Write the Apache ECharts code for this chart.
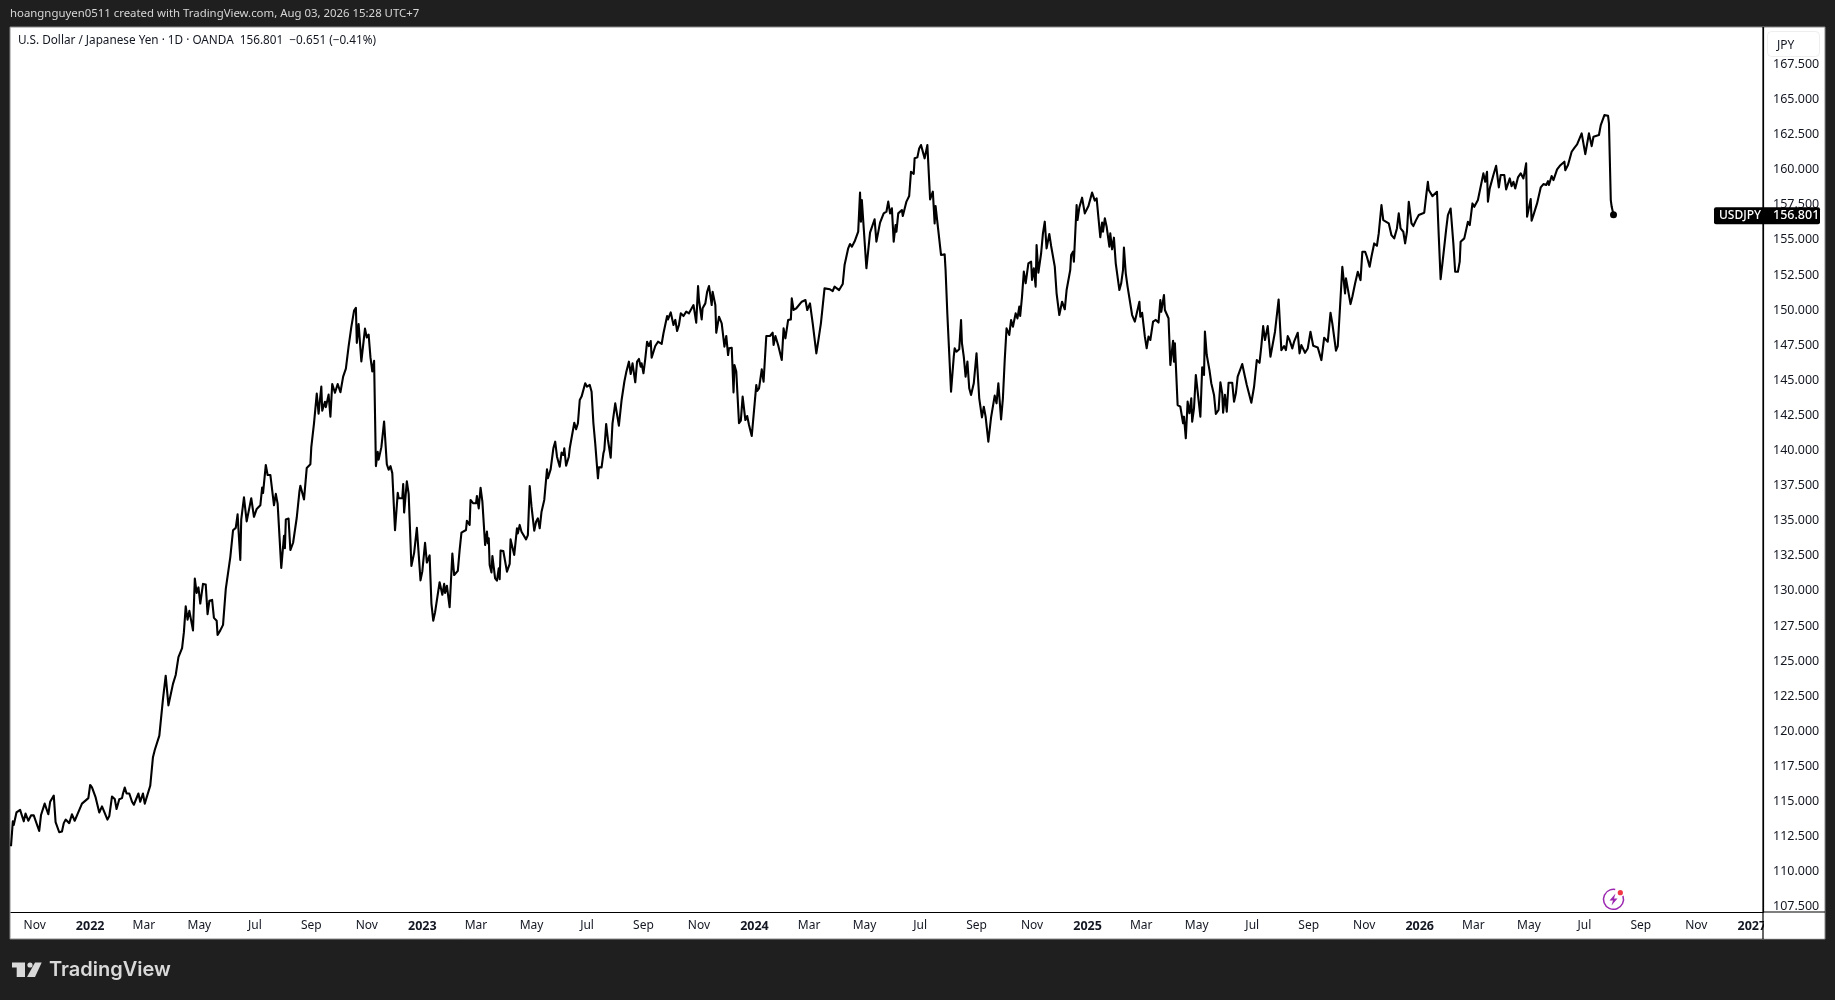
<!DOCTYPE html>
<html><head><meta charset="utf-8">
<style>html,body{margin:0;padding:0;background:#1f1f1f}#c{width:1835px;height:1000px}</style>
<script src="https://cdn.jsdelivr.net/npm/echarts@6/dist/echarts.min.js"></script>
</head><body><div id="c"></div>
<script>
const startDate = '2021-10-06';
const dayOffsets = [
0,2,3,6,10,14,16,19,22,25,31,33,35,37,41,43,47,49,53,56,
58,60,64,67,70,73,78,80,85,87,89,93,95,97,100,106,108,111,114,116,
119,122,123,125,127,130,133,135,140,142,145,147,153,156,158,160,163,167,169,170,
173,175,178,181,184,188,190,192,194,196,200,202,204,206,208,211,214,216,218,221,
223,226,227,230,231,233,236,238,241,244,247,249,252,253,256,259,264,267,270,274,
276,277,280,282,285,289,291,293,297,300,301,302,305,307,310,314,317,318,322,325,
329,330,333,336,338,341,342,345,346,349,351,353,356,359,362,365,368,370,371,374,
377,379,380,382,385,389,391,393,395,396,397,399,401,403,404,407,408,410,413,415,
417,419,422,425,426,430,431,432,434,435,437,438,440,443,446,450,452,455,457,460,
462,464,466,468,471,474,476,477,479,482,484,485,487,491,493,
495,500,501,504,505,508,511,512,514,516,518,521,523,524,525,526,528,529,532,534,
536,537,538,541,545,548,549,553,556,557,559,561,563,566,568,570,572,575,577,579,
581,583,586,589,590,593,596,598,600,603,605,607,608,610,613,614,616,619,621,623,
625,627,631,633,636,638,640,642,645,646,649,651,652,654,656,659,661,664,665,668,
671,674,676,678,679,681,683,686,688,690,692,693,695,697,699,701,703,704,708,711,
713,715,717,721,722,725,728,730,732,734,736,739,742,745,750,753,755,756,759,760,
763,765,767,770,771,774,775,778,781,784,786,788,789,792,794,795,797,800,802,804,
807,809,811,814,819,820,822,825,827,830,834,837,838,840,843,847,849,851,853,854,
857,858,860,863,865,869,873,875,878,881,885,887,890,892,894,896,900,903,905,910,
914,916,918,
920,922,924,927,931,933,934,935,940,944,949,951,955,959,962,964,966,968,970,972,
973,975,979,980,984,987,989,992,993,996,998,1000,1004,1007,1010,1013,1015,1016,1018,1022,
1026,1027,1029,1033,1036,1037,1039,1042,1044,1045,1047,1049,1051,1053,1055,1058,1061,1064,1067,1069,
1071,1074,1077,1081,1083,1085,1087,1088,1090,1092,1094,1097,1099,1101,1104,1106,1108,1109,1111,1113,
1115,1118,1121,1122,1124,1126,1127,1129,1132,1134,1136,1138,1141,1143,1147,1149,1152,1155,1158,1160,
1164,1165,1167,1168,1171,1172,1174,1177,1180,1184,1188,1191,1193,1197,1199,1200,1202,1204,1207,1208,
1210,1212,1214,1218,1220,1222,1223,1225,1227,1232,1235,1237,1240,1241,1243,1246,1248,1250,1252,1255,
1258,1261,1263,1264,1267,1268,1272,1274,1277,1278,1279,1282,1285,1288,1289,1291,1293,1295,1297,1298,
1300,1302,1307,1309,1311,1312,1314,1317,1319,1322,1324,1327,1329,1331,1332,1334,1336,1338,1342,1344,
1346,1348,1350,
1353,1356,1358,1363,1366,1369,1372,1374,1376,1378,1381,1384,1386,1389,1393,1396,1399,1401,1403,1405,
1408,1410,1414,1416,1418,1422,1425,1428,1431,1436,1440,1443,1447,1450,1452,1456,1458,1463,1466,1467,
1472,1474,1477,1480,1482,1483,1485,1488,1490,1493,1495,1498,1501,1503,1506,1508,1510,1514,1517,1520,
1523,1525,1527,1530,1532,1534,1536,1539,1541,1544,1547,1549,1553,1555,1557,1558,1560,1562,1567,1569,
1571,1573,1577,1579,1582,1585,1587,1590,1592,1593,1597,1601,1603,1606,1608,1612,1618,1620,1622,1623,
1625,1629,1632,1635,1637,1641,1643,1647,1649,1651,1653,1656,1659,1662,1665,1666,1670,1671,1673,1677,
1681,1684,1687,1689,1690,1693,1695,1699,1702,1707,1708,1711,1715,1718,1721,1723,1726,1727,1730,1734,
1737,1739,1745,1747,1749,1751,1755,1756,1758,1759,1761
];
const closePrices = [
111.81,113.59,113.33,114.22,114.40,113.59,114.14,113.63,114.01,114.01,112.90,114.04,114.04,114.85,114.09,114.98,115.42,113.53,112.81,112.87,
113.46,113.71,113.46,114.09,113.63,114.09,114.85,114.85,115.24,116.18,116.00,115.29,115.24,114.22,114.65,113.71,113.96,115.36,115.18,114.47,
115.16,115.24,115.55,116.00,115.57,115.57,114.98,114.77,115.57,114.98,115.57,114.85,116.12,118.16,118.67,118.72,119.69,122.29,122.29,123.96,
121.85,121.72,123.38,124.01,125.28,125.92,127.06,128.90,127.95,128.58,127.19,130.88,129.86,130.25,129.10,130.50,130.45,128.34,129.30,129.36,
128.08,127.88,126.86,127.19,127.06,127.58,130.12,130.12,132.41,134.32,134.49,135.45,132.21,135.08,136.67,134.95,136.60,135.28,135.84,136.10,
137.37,136.98,138.97,138.26,138.26,136.10,136.91,136.22,131.64,133.93,133.04,135.08,135.15,132.91,133.43,135.21,137.11,137.49,136.52,138.76,
139.02,140.24,141.95,144.06,142.63,144.56,142.83,143.47,143.09,143.98,142.41,144.74,144.11,144.74,144.15,145.26,145.83,145.94,147.41,148.81,
149.96,150.16,147.67,149.00,146.35,148.68,148.05,148.26,146.65,146.52,145.63,146.39,138.89,139.91,139.35,140.24,140.34,142.07,139.02,138.63,
138.89,138.39,134.32,136.98,136.60,136.60,137.62,135.58,135.51,137.80,136.91,136.91,131.77,132.71,134.49,130.75,131.39,133.43,132.02,132.53,
129.10,127.88,128.47,128.47,130.62,129.73,130.50,129.86,130.37,128.84,128.71,132.66,131.13,131.43,132.91,
134.15,134.34,135.00,134.70,136.48,136.24,136.24,136.76,135.88,137.35,136.36,133.27,134.22,133.39,133.75,131.85,131.32,132.49,130.90,130.73,
131.61,130.83,132.87,132.84,131.37,131.92,133.67,132.56,134.46,134.10,134.70,134.22,134.22,133.67,133.98,137.47,136.00,134.29,134.93,135.17,
134.46,135.64,136.48,138.66,138.02,138.66,140.16,140.63,139.56,138.85,139.85,139.68,140.16,138.92,139.56,140.16,140.27,141.98,141.51,141.94,
143.60,143.84,144.79,144.55,144.67,144.19,141.94,140.51,138.02,138.80,138.80,139.80,140.04,141.89,140.75,139.49,141.94,143.36,143.31,141.77,
143.60,144.90,145.55,145.62,146.33,145.45,146.21,144.86,146.33,146.52,145.97,146.21,145.50,146.52,147.75,147.44,147.80,146.61,147.44,147.75,
147.87,147.59,148.35,149.58,149.34,149.84,148.94,149.30,148.51,148.94,149.77,149.58,149.89,149.77,150.36,149.11,151.72,150.72,149.34,150.13,
150.48,151.31,151.72,150.36,151.31,150.36,148.39,149.53,149.06,147.40,148.16,146.80,147.28,147.32,144.14,146.09,145.62,141.94,142.13,143.84,
142.17,142.46,141.82,141.03,144.67,144.24,144.43,145.78,144.90,148.16,148.16,148.39,147.52,148.16,147.52,146.45,148.70,147.99,148.11,149.30,
149.34,150.84,150.01,150.13,150.06,150.60,150.72,150.01,150.48,149.06,146.92,147.75,149.06,149.18,151.55,151.43,151.48,151.36,151.67,151.43,
151.86,153.21,153.33,
154.40,154.71,154.52,154.88,155.59,158.37,156.30,157.84,152.98,155.52,156.47,154.88,156.23,156.89,157.01,157.73,156.89,157.25,154.88,156.06,
155.59,156.89,157.13,156.70,157.73,158.13,159.86,159.70,160.81,160.88,161.52,161.76,160.81,161.76,157.89,158.44,156.18,157.42,157.42,153.93,
153.97,152.86,149.65,144.19,146.69,147.28,147.04,147.21,149.30,147.64,146.69,145.26,146.33,144.43,143.96,144.79,146.92,143.72,142.36,143.12,
142.41,140.63,142.36,143.91,143.36,144.79,144.79,142.22,143.72,146.45,148.70,148.23,149.30,148.82,149.77,149.41,150.25,149.58,150.96,152.74,
151.91,153.33,153.45,152.15,152.98,151.67,154.64,152.67,154.05,155.47,156.30,154.40,155.42,154.57,153.10,151.20,149.65,150.60,150.06,151.43,
152.86,153.93,154.16,153.45,157.49,156.42,157.32,158.01,156.89,157.42,158.37,157.80,157.96,155.19,156.23,155.59,156.54,155.94,154.52,155.47,
154.33,155.16,153.33,151.43,151.91,152.86,154.45,152.62,151.67,149.65,149.18,149.06,150.60,149.53,149.81,148.11,147.28,148.11,147.87,149.18,
149.30,149.11,150.72,149.88,151.08,150.01,149.42,146.09,147.82,146.33,147.63,143.24,143.12,141.94,142.41,140.87,143.48,142.65,143.72,142.06,
143.01,145.38,142.41,145.93,145.38,148.47,146.80,145.73,144.79,143.96,142.60,142.89,144.86,144.07,142.70,143.96,142.77,144.83,144.83,143.48,
144.07,145.26,145.33,
146.16,145.25,144.66,143.40,144.54,146.44,146.25,147.44,148.86,147.87,148.86,146.68,146.54,148.46,150.76,147.15,147.44,147.15,148.15,147.87,
147.27,147.75,148.39,146.92,147.51,146.96,147.27,148.46,147.46,147.34,146.44,148.03,147.75,149.81,149.05,147.11,147.44,153.09,151.19,152.26,
150.43,150.95,151.90,152.73,152.85,152.14,154.16,154.16,153.80,153.09,153.80,154.75,154.58,155.46,157.48,156.41,156.46,156.18,155.34,155.11,
155.82,156.89,155.82,155.58,154.75,155.58,157.72,156.18,155.99,156.41,156.77,156.65,156.94,158.07,159.14,158.55,158.60,158.12,158.43,155.23,
152.21,153.33,155.70,156.77,157.24,154.75,152.73,152.73,153.45,154.87,155.11,156.29,156.06,157.60,157.36,157.84,159.74,159.14,159.86,157.72,
158.67,159.62,160.28,158.74,159.62,159.62,158.60,159.38,158.83,159.14,158.67,159.45,159.74,159.38,160.45,156.65,157.91,156.37,156.77,157.60,
158.74,158.98,158.91,159.19,158.91,159.55,159.26,160.02,160.28,160.57,159.97,160.33,161.28,161.56,161.80,161.87,162.59,162.63,161.11,162.59,
161.68,162.35,162.47,163.18,163.25,163.89,163.84,163.30,157.84,157.36,156.801
];
const tickDates = ['2021-11-01','2022-01-01','2022-03-01','2022-05-01','2022-07-01','2022-09-01','2022-11-01','2023-01-01','2023-03-01','2023-05-01','2023-07-01','2023-09-01','2023-11-01','2024-01-01','2024-03-01','2024-05-01','2024-07-01','2024-09-01','2024-11-01','2025-01-01','2025-03-01','2025-05-01','2025-07-01','2025-09-01','2025-11-01','2026-01-01','2026-03-01','2026-05-01','2026-07-01','2026-09-01','2026-11-01','2027-01-01'];
const tickLabels = ['Nov','2022','Mar','May','Jul','Sep','Nov','2023','Mar','May','Jul','Sep','Nov','2024','Mar','May','Jul','Sep','Nov','2025','Mar','May','Jul','Sep','Nov','2026','Mar','May','Jul','Sep','Nov','2027'];
const priceTicks = [107.5,110,112.5,115,117.5,120,122.5,125,127.5,130,132.5,135,137.5,140,142.5,145,147.5,150,152.5,155,157.5,160,162.5,165,167.5];
const attribution = 'hoangnguyen0511 created with TradingView.com, Aug 03, 2026 15:28 UTC+7';
const heading = 'U.S. Dollar / Japanese Yen · 1D · OANDA  156.801  −0.651 (−0.41%)';

if (dayOffsets.length !== closePrices.length) throw new Error('length mismatch ' + dayOffsets.length + ' ' + closePrices.length);

const FONT = '"Noto Sans"';
const DAY = 86400000;
const base = Date.parse(startDate + 'T00:00:00Z');
const seriesData = dayOffsets.map((d, i) => [base + d * DAY, closePrices[i]]);
const tickMs = tickDates.map(s => Date.parse(s + 'T00:00:00Z'));
const labelOf = new Map(tickMs.map((t, i) => [t, tickLabels[i]]));
const last = closePrices[closePrices.length - 1];

const chart = echarts.init(document.getElementById('c'), null, {renderer: 'canvas'});
chart.setOption({
  animation: false,
  backgroundColor: '#1f1f1f',
  title: [
    {text: attribution, left: 10, top: 8, padding: 0, textStyle: {color: '#d6d6d6', fontFamily: FONT, fontSize: 11.4, fontWeight: 'normal'}},
    {text: heading, left: 18, top: 35, padding: 0, z: 20, textStyle: {color: '#131722', fontFamily: FONT, fontSize: 11.75, fontWeight: 'normal'}}
  ],
  grid: {left: 11, top: 27.5, width: 1752, height: 884.5, show: false},
  xAxis: {
    type: 'value', min: base, max: base + 1925.27 * DAY,
    axisLine: {show: true, onZero: false, lineStyle: {color: '#000', width: 1.2}}, axisTick: {show: false}, splitLine: {show: false},
    axisLabel: {
      customValues: tickMs, margin: 8, hideOverlap: false, showMinLabel: true, showMaxLabel: true,
      fontFamily: FONT, fontSize: 12, color: '#131722',
      formatter: v => { const s = labelOf.get(v) || ''; return /^\d/.test(s) ? '{y|' + s + '}' : s; },
      rich: {y: {fontFamily: FONT, fontSize: 12.5, fontWeight: 'bold', color: '#131722'}}
    }
  },
  yAxis: {
    type: 'value', position: 'right', min: 107.13, max: 170.13,
    axisLine: {show: true, onZero: false, lineStyle: {color: '#000', width: 1.2}}, axisTick: {show: false}, splitLine: {show: false},
    axisLabel: {customValues: priceTicks, margin: 10, fontFamily: FONT, fontSize: 12.5, color: '#131722', hideOverlap: false, showMinLabel: true, showMaxLabel: true, formatter: v => v.toFixed(3)}
  },
  series: [{
    type: 'line', data: seriesData, showSymbol: false, smooth: false, clip: true, z: 5,
    lineStyle: {color: '#000', width: 2.1, join: 'round'},
    markPoint: {silent: true, symbol: 'circle', symbolSize: 7, itemStyle: {color: '#000'}, label: {show: false},
      data: [{coord: seriesData[seriesData.length - 1]}]}
  }]
});

const tagY = chart.convertToPixel({yAxisIndex: 0}, last) + 1;
const ink = '#d9d9d9';
chart.setOption({
  graphic: [
    {type: 'rect', z: -10, silent: true, shape: {x: 10, y: 27, width: 1815, height: 912}, style: {fill: '#fff', stroke: '#8a8a8a', lineWidth: 1}},
    {type: 'rect', z: 30, silent: true, shape: {x: 1764, y: 913, width: 60, height: 25.5}, style: {fill: '#fff'}},
    {type: 'line', z: 31, silent: true, shape: {x1: 1763, y1: 27, x2: 1763, y2: 939}, style: {stroke: '#000', lineWidth: 1.2}},
    {type: 'line', z: 31, silent: true, shape: {x1: 1763, y1: 912, x2: 1825, y2: 912}, style: {stroke: '#000', lineWidth: 1.2}},
    {type: 'rect', z: 32, silent: true, shape: {x: 1767.5, y: 31.5, width: 52, height: 25, r: 4}, style: {fill: '#fff', stroke: '#eeeeee', lineWidth: 1}},
    {type: 'text', z: 33, silent: true, style: {x: 1777, y: 45.5, text: 'JPY', fill: '#131722', font: '12px ' + FONT, textVerticalAlign: 'middle'}},
    {type: 'rect', z: 34, silent: true, shape: {x: 1714, y: tagY - 8.5, width: 106, height: 17, r: 2}, style: {fill: '#000'}},
    {type: 'text', z: 35, silent: true, style: {x: 1719, y: tagY, text: 'USDJPY', fill: '#fff', font: '500 12px ' + FONT, textVerticalAlign: 'middle'}},
    {type: 'text', z: 35, silent: true, style: {x: 1773, y: tagY, text: last.toFixed(3), fill: '#fff', font: '500 12.5px ' + FONT, textVerticalAlign: 'middle'}},
    {type: 'arc', z: 20, silent: true, shape: {cx: 1613.5, cy: 899.3, r: 10, startAngle: -20 * Math.PI / 180, endAngle: 280 * Math.PI / 180}, style: {stroke: '#9c27b0', fill: 'none', lineWidth: 1.5}},
    {type: 'circle', z: 21, silent: true, shape: {cx: 1620.3, cy: 892.7, r: 2.6}, style: {fill: '#f23645'}},
    {type: 'polygon', z: 21, silent: true, shape: {points: [[1615.5, 893.5], [1609.5, 900.5], [1613, 900.5], [1611.5, 905.5], [1617.5, 898.5], [1614, 898.5]]}, style: {fill: '#9c27b0'}},
    {type: 'polygon', z: 20, silent: true, shape: {points: [[12, 962.5], [25, 962.5], [25, 977], [16.7, 977], [16.7, 967.5], [12, 967.5]]}, style: {fill: ink}},
    {type: 'circle', z: 20, silent: true, shape: {cx: 30, cy: 965, r: 2.6}, style: {fill: ink}},
    {type: 'polygon', z: 20, silent: true, shape: {points: [[35, 962.5], [41.7, 962.5], [35, 977], [27, 977]]}, style: {fill: ink}},
    {type: 'text', z: 20, silent: true, style: {x: 49, y: 970, text: 'TradingView', fill: ink, font: '600 20px Inter', textVerticalAlign: 'middle'}}
  ]
});
</script></body></html>
